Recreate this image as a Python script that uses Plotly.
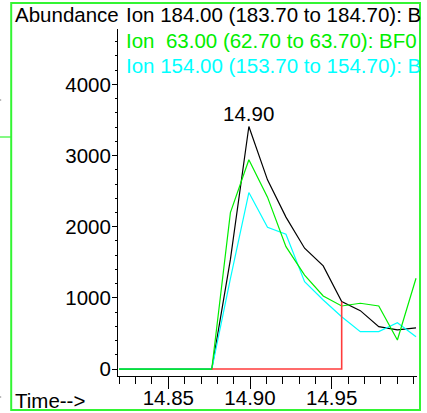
import plotly.graph_objects as go

# ---- data ----
times = [14.8198, 14.8312, 14.8425, 14.8539, 14.8652, 14.8766, 14.8880, 14.8993,
         14.9107, 14.9220, 14.9334, 14.9448, 14.9561, 14.9675, 14.9788, 14.9902, 15.0016]
ion184 = [0, 0, 0, 0, 0, 0, 1540, 3408, 2658, 2135, 1698, 1449, 947, 820, 595, 549, 577]
ion63 = [0, 0, 0, 0, 0, 0, 2198, 2940, 2415, 1720, 1320, 1027, 886, 924, 886, 408, 1276]
ion154 = [0, 0, 0, 0, 0, 0, 1270, 2480, 1993, 1895, 1228, 970, 735, 525, 525, 651, 454]

ion_labels = ["Ion 184.00 (183.70 to 184.70): B",
              "Ion  63.00 (62.70 to 63.70): BF0",
              "Ion 154.00 (153.70 to 154.70): B"]
peak_label = "14.90"
x_tick_vals = [14.85, 14.90, 14.95]
x_tick_text = ["14.85", "14.90", "14.95"]
y_tick_vals = [0, 1000, 2000, 3000, 4000]
y_tick_text = ["0", "1000", "2000", "3000", "4000"]

# integration baseline (start index / end index)
base_start, base_end = 5, 12

# ---- layout geometry (pixels) ----
W, H = 427, 413
L, R, T, B = 118, 10, 29, 37
PW, PH = W - L - R, H - T - B
XR = [14.8192, 15.0022]
YR = [-98, 4778]

def px(x):
    return (x - L) / PW

def py(y):
    return (H - B - y) / PH

FONT = "Liberation Sans, Arial, sans-serif"
FS = 20.5
BLACK = "#000000"
GREEN = "#00ee00"
CYAN = "#00ffff"
RED = "#ff3b3b"
FRAME = "#33f533"
CLEAR = "rgba(0,0,0,0)"

fig = go.Figure()
fig.add_trace(go.Scatter(x=times, y=ion184, mode="lines", line=dict(color=BLACK, width=1.2)))
fig.add_trace(go.Scatter(x=times, y=ion154, mode="lines", line=dict(color=CYAN, width=1.2)))
fig.add_trace(go.Scatter(x=times, y=ion63, mode="lines", line=dict(color=GREEN, width=1.2)))
fig.add_trace(go.Scatter(
    x=[times[base_start], times[base_end], times[base_end]],
    y=[0, 0, ion184[base_end]],
    mode="lines", line=dict(color=RED, width=1.6)))
# invisible trace to carry the label-only axes
fig.add_trace(go.Scatter(x=XR, y=YR, xaxis="x2", yaxis="y2", mode="lines",
                         line=dict(color=CLEAR, width=0), hoverinfo="skip"))

peak_i = ion184.index(max(ion184))

annotations = [
    dict(x=times[peak_i], y=ion184[peak_i], xref="x", yref="y", text=peak_label,
         showarrow=False, yshift=13, font=dict(size=FS, color=BLACK)),
    dict(x=px(13), y=py(15), xref="paper", yref="paper", text="Abundance",
         xanchor="left", yanchor="middle", showarrow=False, font=dict(size=FS, color=BLACK)),
    dict(x=px(124), y=py(15), xref="paper", yref="paper", text=ion_labels[0],
         xanchor="left", yanchor="middle", showarrow=False, font=dict(size=FS, color=BLACK)),
    dict(x=px(124), y=py(40), xref="paper", yref="paper", text=ion_labels[1],
         xanchor="left", yanchor="middle", showarrow=False, font=dict(size=FS, color=GREEN)),
    dict(x=px(124), y=py(65), xref="paper", yref="paper", text=ion_labels[2],
         xanchor="left", yanchor="middle", showarrow=False, font=dict(size=FS, color=CYAN)),
    dict(x=px(13), y=py(400), xref="paper", yref="paper", text="Time-->",
         xanchor="left", yanchor="middle", showarrow=False, font=dict(size=FS, color=BLACK)),
    # white mask clipping the text at the right frame edge
    dict(x=px(421.5), y=py(0), xref="paper", yref="paper", text=" ", width=20, height=90,
         xanchor="left", yanchor="top", showarrow=False, bgcolor="white", borderpad=0,
         font=dict(size=4)),
]

shapes = [
    dict(type="rect", xref="paper", yref="paper", x0=px(11.2), x1=px(420), y0=py(410), y1=py(3),
         line=dict(color=FRAME, width=2)),
    dict(type="line", xref="paper", yref="paper", x0=px(0), x1=px(11), y0=py(137), y1=py(137),
         line=dict(color=FRAME, width=1.2)),
    dict(type="line", xref="paper", yref="paper", x0=px(0), x1=px(1.2), y0=py(100), y1=py(100),
         line=dict(color="#777777", width=1)),
    dict(type="line", xref="paper", yref="paper", x0=px(0), x1=px(1.2), y0=py(397), y1=py(397),
         line=dict(color="#777777", width=1)),
]

fig.update_layout(
    width=W, height=H,
    margin=dict(l=L, r=R, t=T, b=B, pad=0, autoexpand=False),
    paper_bgcolor="white", plot_bgcolor="white",
    showlegend=False,
    hovermode=False,
    font=dict(family=FONT, size=FS, color=BLACK),
    annotations=annotations,
    shapes=shapes,
    xaxis=dict(range=XR, showgrid=False, zeroline=False, automargin=False,
               showline=True, linecolor=BLACK, linewidth=1,
               tickmode="array", tickvals=x_tick_vals, showticklabels=False,
               ticks="outside", ticklen=12, tickcolor=BLACK, tickwidth=1,
               minor=dict(tickmode="linear", tick0=14.82, dtick=0.01, ticks="outside",
                          ticklen=7, tickcolor=BLACK, tickwidth=1, showgrid=False)),
    yaxis=dict(range=YR, showgrid=False, zeroline=False, automargin=False,
               showline=True, linecolor=BLACK, linewidth=1,
               tickmode="array", tickvals=y_tick_vals, showticklabels=False,
               ticks="outside", ticklen=5, tickcolor=BLACK, tickwidth=1,
               minor=dict(tickmode="linear", tick0=0, dtick=200, ticks="outside",
                          ticklen=2, tickcolor=BLACK, tickwidth=1, showgrid=False)),
    xaxis2=dict(range=XR, overlaying="x", anchor="y2", side="bottom", showgrid=False,
                zeroline=False, automargin=False, showline=False,
                tickmode="array", tickvals=x_tick_vals, ticktext=x_tick_text,
                ticks="outside", ticklen=3, tickcolor=CLEAR,
                tickfont=dict(size=FS, color=BLACK, family=FONT)),
    yaxis2=dict(range=YR, overlaying="y", anchor="x2", side="left", showgrid=False,
                zeroline=False, automargin=False, showline=False,
                tickmode="array", tickvals=y_tick_vals, ticktext=y_tick_text,
                ticks="outside", ticklen=2, tickcolor=CLEAR,
                tickfont=dict(size=FS, color=BLACK, family=FONT)),
)

fig.write_html("out.html", config={"displayModeBar": False, "staticPlot": True},
               post_script="document.body.style.margin='0px';")
